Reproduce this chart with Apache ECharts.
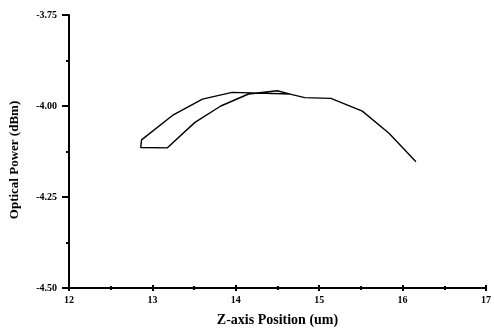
<!DOCTYPE html>
<html>
<head>
<meta charset="utf-8">
<script src="https://cdn.jsdelivr.net/npm/echarts@6/dist/echarts.min.js"></script>
<style>html,body{margin:0;padding:0;background:#fff;}#c{width:494px;height:332px;}</style>
</head>
<body>
<div id="c"></div>
<script>
// Path of the measured curve (in drawing order)
var zPosition = [14.65, 13.955, 13.60, 13.24, 12.87, 12.86, 13.18, 13.51, 13.82, 14.153, 14.497, 14.663, 14.826, 15.14, 15.517, 15.837, 16.16];
var opticalPower = [-3.967, -3.9625, -3.981, -4.026, -4.093, -4.114, -4.115, -4.045, -4.000, -3.967, -3.958, -3.968, -3.977, -3.979, -4.014, -4.075, -4.153];
var xTicks = [12, 13, 14, 15, 16, 17];
var yTicks = ['-3.75', '-4.00', '-4.25', '-4.50'];

var font = 'Liberation Serif';
var chart = echarts.init(document.getElementById('c'), null, {renderer: 'canvas'});
var pts = zPosition.map(function (x, i) { return [x, opticalPower[i]]; });

chart.setOption({
  animation: false,
  backgroundColor: '#fff',
  grid: {left: 68.5, right: 4.5, top: 15, bottom: 42},
  xAxis: [{
    type: 'value', min: xTicks[0], max: xTicks[xTicks.length - 1], interval: 1,
    name: 'Z-axis Position (um)', nameLocation: 'middle', nameGap: 25,
    nameTextStyle: {fontFamily: font, fontWeight: 'bold', fontSize: 14, color: '#000'},
    axisLine: {show: true, lineStyle: {color: '#000', width: 2}},
    axisTick: {show: true, length: 3, lineStyle: {color: '#000', width: 2}},
    minorTick: {show: true, splitNumber: 2, length: 2, lineStyle: {color: '#000', width: 2}},
    axisLabel: {fontFamily: font, fontWeight: 'bold', fontSize: 10, color: '#000', margin: 7},
    splitLine: {show: false}
  }, {
    type: 'value', position: 'bottom', min: xTicks[0], max: xTicks[xTicks.length - 1], interval: 1,
    axisLine: {show: false},
    axisTick: {show: true, inside: true, length: 3, lineStyle: {color: '#000', width: 2}},
    minorTick: {show: true, splitNumber: 2, length: 2, lineStyle: {color: '#000', width: 2}},
    axisLabel: {show: false},
    splitLine: {show: false}
  }],
  yAxis: {
    type: 'value', min: -4.5, max: -3.75, interval: 0.25,
    name: 'Optical Power (dBm)', nameLocation: 'middle', nameGap: 48,
    nameTextStyle: {fontFamily: font, fontWeight: 'bold', fontSize: 13, color: '#000', padding: [0, 17, 0, 0]},
    axisLine: {show: true, lineStyle: {color: '#000', width: 2}},
    axisTick: {show: true, length: 7, lineStyle: {color: '#000', width: 2}},
    minorTick: {show: true, splitNumber: 2, length: 3, lineStyle: {color: '#000', width: 2}},
    axisLabel: {fontFamily: font, fontWeight: 'bold', fontSize: 10, color: '#000', margin: 12,
      formatter: function (v) { return v.toFixed(2); }},
    splitLine: {show: false}
  },
  series: [{
    type: 'line', data: pts, showSymbol: false, symbol: 'none',
    lineStyle: {color: '#000', width: 1.4}
  }]
});
</script>
</body>
</html>
